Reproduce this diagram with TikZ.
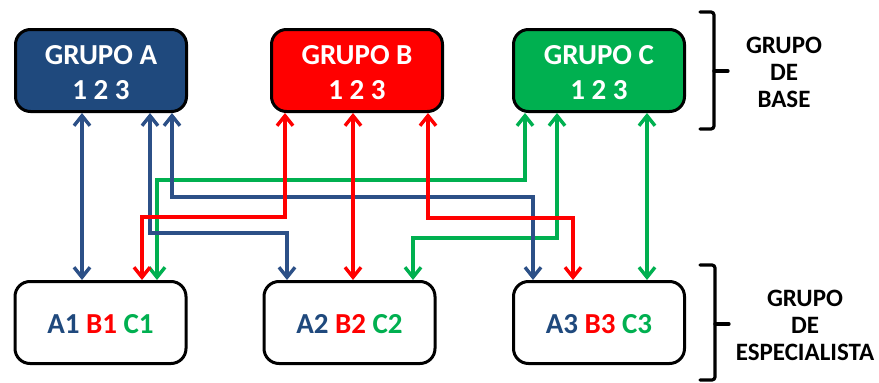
\documentclass[tikz,border=0pt]{standalone}
\usepackage{fontspec}
\setmainfont{Carlito}
\usetikzlibrary{arrows.meta}
\definecolor{myblue}{RGB}{31,73,125}
\definecolor{lineblue}{RGB}{44,80,135}
\definecolor{myred}{RGB}{255,0,0}
\definecolor{mygreen}{RGB}{0,176,80}
\newcommand\boxtxt[2]{\raisebox{#1}[\height][\depth]{\begin{tabular}{@{}c@{}}#2\end{tabular}}}
\tikzset{
  grp/.style={draw=black, line width=3pt, rounded corners=15pt, minimum width=171pt, minimum height=82pt, align=center, text=white, font=\fontsize{29}{35}\selectfont\bfseries},
  spec/.style={draw=black, fill=white, line width=3pt, rounded corners=15pt, minimum width=171pt, minimum height=82pt, align=center, font=\fontsize{29}{34}\selectfont\bfseries},
  lbl/.style={align=center, font=\fontsize{25}{27}\selectfont\bfseries, text=black},
  conn/.style={line width=3.4pt, {Straight Barb[length=10pt,width=16pt]}-{Straight Barb[length=10pt,width=16pt]}},
  bconn/.style={conn, draw=lineblue},
  rconn/.style={conn, draw=myred},
  gconn/.style={conn, draw=mygreen},
  brace/.style={line width=3.2pt, draw=black, rounded corners=3pt, line cap=round}
}
\begin{document}
\begin{tikzpicture}[x=1pt, y=-1pt]
\useasboundingbox (0,0) rectangle (879,383);
% base groups
\node[grp, fill=myblue] (ga) at (101,70.5) {\boxtxt{-4pt}{GRUPO A\\1 2 3}};
\node[grp, fill=myred] (gb) at (357,70.5) {\boxtxt{-4pt}{GRUPO B\\1 2 3}};
\node[grp, fill=mygreen] (gc) at (599,70.5) {\boxtxt{-4pt}{GRUPO C\\1 2 3}};
% specialist groups
\node[spec] (sa) at (100.5,322.5) {\boxtxt{-4pt}{\textcolor{myblue}{A1} \textcolor{myred}{B1} \textcolor{mygreen}{C1}}};
\node[spec] (sb) at (349.5,322.5) {\boxtxt{-4pt}{\textcolor{myblue}{A2} \textcolor{myred}{B2} \textcolor{mygreen}{C2}}};
\node[spec] (sc) at (599,322.5) {\boxtxt{-4pt}{\textcolor{myblue}{A3} \textcolor{myred}{B3} \textcolor{mygreen}{C3}}};
% labels
\node[lbl] (lbase) at (784,72) {GRUPO\\DE\\BASE};
\node[lbl] (lspec) at (805,325) {GRUPO\\DE\\ESPECIALISTA};
% braces
\draw[brace] (700,12) -- (714,12) -- (714,129) -- (700,129);
\draw[brace] (714,71) -- (728,71);
\draw[brace] (700,265) -- (715,265) -- (715,380) -- (700,380);
\draw[brace] (715,324) -- (729,324);
% connectors: green
\draw[gconn] ([xshift=-74]gc.south) -- ++(0,67) -| ([xshift=56.5]sa.north);
\draw[gconn] ([xshift=-42]gc.south) -- ++(0,125) -| ([xshift=63.5]sb.north);
\draw[gconn] ([xshift=48]gc.south) -- ([xshift=48]gc.south |- sc.north);
% connectors: blue
\draw[bconn] ([xshift=-19]ga.south) -- ([xshift=-19]ga.south |- sa.north);
\draw[bconn] ([xshift=71]ga.south) -- ++(0,84) -| ([xshift=-66]sc.north);
\draw[bconn] ([xshift=49]ga.south) -- ++(0,120) -| ([xshift=-62.5]sb.north);
% connectors: red
\draw[rconn] ([xshift=-72]gb.south) -- ++(0,104) -| ([xshift=41.5]sa.north);
\draw[rconn] ([xshift=-4]gb.south) -- ([xshift=-4]gb.south |- sb.north);
\draw[rconn] ([xshift=71]gb.south) -- ++(0,105) -| ([xshift=-26]sc.north);
\end{tikzpicture}
\end{document}
